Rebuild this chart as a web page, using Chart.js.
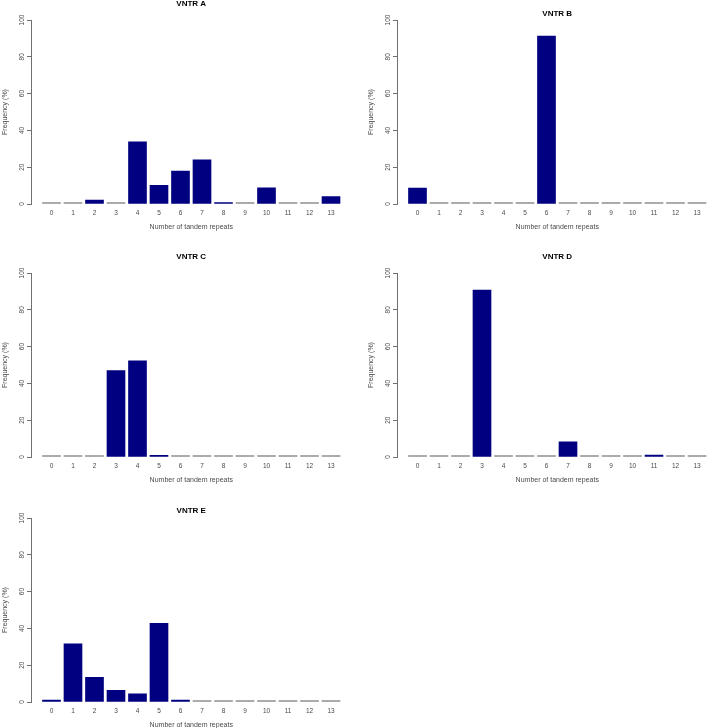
<!DOCTYPE html>
<html lang="en">
<head>
  <meta charset="UTF-8" />
  <title>VNTR tandem repeat frequencies</title>
  <script src="https://cdn.jsdelivr.net/npm/chart.js@4.4.1/dist/chart.umd.min.js"></script>
  <style>
    html, body { margin: 0; padding: 0; background: #fff; }
    body { width: 709px; height: 728px; position: relative; overflow: hidden; }
    .panel { position: absolute; width: 364px; height: 240px; }
  </style>
</head>
<body>
  <div class="panel" style="left:-11.3px; top:-4px"><canvas id="chartA"></canvas></div>
  <div class="panel" style="left:355.3px; top:-4px"><canvas id="chartB"></canvas></div>
  <div class="panel" style="left:-11.3px; top:249.3px"><canvas id="chartC"></canvas></div>
  <div class="panel" style="left:355.3px; top:249.3px"><canvas id="chartD"></canvas></div>
  <div class="panel" style="left:-11.3px; top:494px"><canvas id="chartE"></canvas></div>

  <script>
    // data (frequency in %)
    const repeats = ['0','1','2','3','4','5','6','7','8','9','10','11','12','13'];
    const vntrA = [0, 0, 2.1, 0, 33.8, 10.2, 17.9, 24.0, 0.6, 0, 8.8, 0, 0, 4.1];
    const vntrB = [8.7, 0, 0, 0, 0, 0, 91.3, 0, 0, 0, 0, 0, 0, 0];
    const vntrC = [0, 0, 0, 47.0, 52.2, 0.9, 0, 0, 0, 0, 0, 0, 0, 0];
    const vntrD = [0, 0, 0, 90.7, 0, 0, 0, 8.3, 0, 0, 0, 1.0, 0, 0];
    const vntrE = [1.0, 31.6, 13.4, 6.3, 4.5, 42.8, 1.0, 0, 0, 0, 0, 0, 0, 0];
    const yTicks = [0, 20, 40, 60, 80, 100];

    const FONT = "'Liberation Sans', Arial, sans-serif";
    const TEXT = '#4a4a4a';
    const AXIS = '#707070';

    function makePanel(id, name, values, titleGap) {
      return new Chart(document.getElementById(id), {
        type: 'bar',
        data: {
          datasets: [{
            data: values.map((v, i) => ({ x: i, y: v })),
            // R draws empty bars as a flat grey outline
            backgroundColor: c => (c.raw && c.raw.y === 0) ? '#8f8f8f' : '#000080',
            borderWidth: 0,
            barThickness: 18,
            minBarLength: 1.5
          }]
        },
        options: {
          responsive: true,
          maintainAspectRatio: false,
          animation: false,
          layout: { padding: { left: 0, right: 1.5, top: 0, bottom: 0 } },
          plugins: {
            legend: { display: false },
            tooltip: { enabled: false },
            title: {
              display: true,
              text: name,
              fullSize: false,
              color: '#000',
              font: { family: FONT, size: 8, weight: 'bold', lineHeight: 1 },
              padding: { top: 24 - titleGap - 4, bottom: titleGap - 4 }
            }
          },
          scales: {
            x: {
              type: 'linear',
              offset: false,
              min: -0.953,
              max: 13.953,
              afterBuildTicks: s => { s.ticks = repeats.map((r, i) => ({ value: i })); },
              afterFit: s => { s.height = 32; },
              grid: { display: false, drawTicks: false },
              border: { display: false },
              ticks: {
                callback: v => repeats[v],
                color: TEXT,
                font: { family: FONT, size: 6.5 },
                padding: 5,
                maxRotation: 0,
                autoSkip: false
              },
              title: {
                display: true,
                text: 'Number of tandem repeats',
                color: TEXT,
                font: { family: FONT, size: 7, lineHeight: 1 },
                padding: { top: 0, bottom: 5.8 }
              }
            },
            y: {
              min: 0,
              max: 100,
              afterBuildTicks: s => { s.ticks = yTicks.map(v => ({ value: v })); },
              afterFit: s => { s.width = 42; },
              grid: { drawOnChartArea: false, drawTicks: true, tickLength: 4, color: AXIS },
              border: { display: true, color: AXIS },
              ticks: {
                minRotation: 90,
                maxRotation: 90,
                crossAlign: 'center',
                padding: -0.5,
                color: TEXT,
                font: { family: FONT, size: 6.5 }
              },
              title: {
                display: true,
                text: 'Frequency (%)',
                color: TEXT,
                font: { family: FONT, size: 7, lineHeight: 1 },
                padding: { top: 12.7, bottom: 0 }
              }
            }
          }
        }
      });
    }

    makePanel('chartA', 'VNTR A', vntrA, 16);
    makePanel('chartB', 'VNTR B', vntrB, 6.7);
    makePanel('chartC', 'VNTR C', vntrC, 16.3);
    makePanel('chartD', 'VNTR D', vntrD, 16);
    makePanel('chartE', 'VNTR E', vntrE, 7.3);
  </script>
</body>
</html>
